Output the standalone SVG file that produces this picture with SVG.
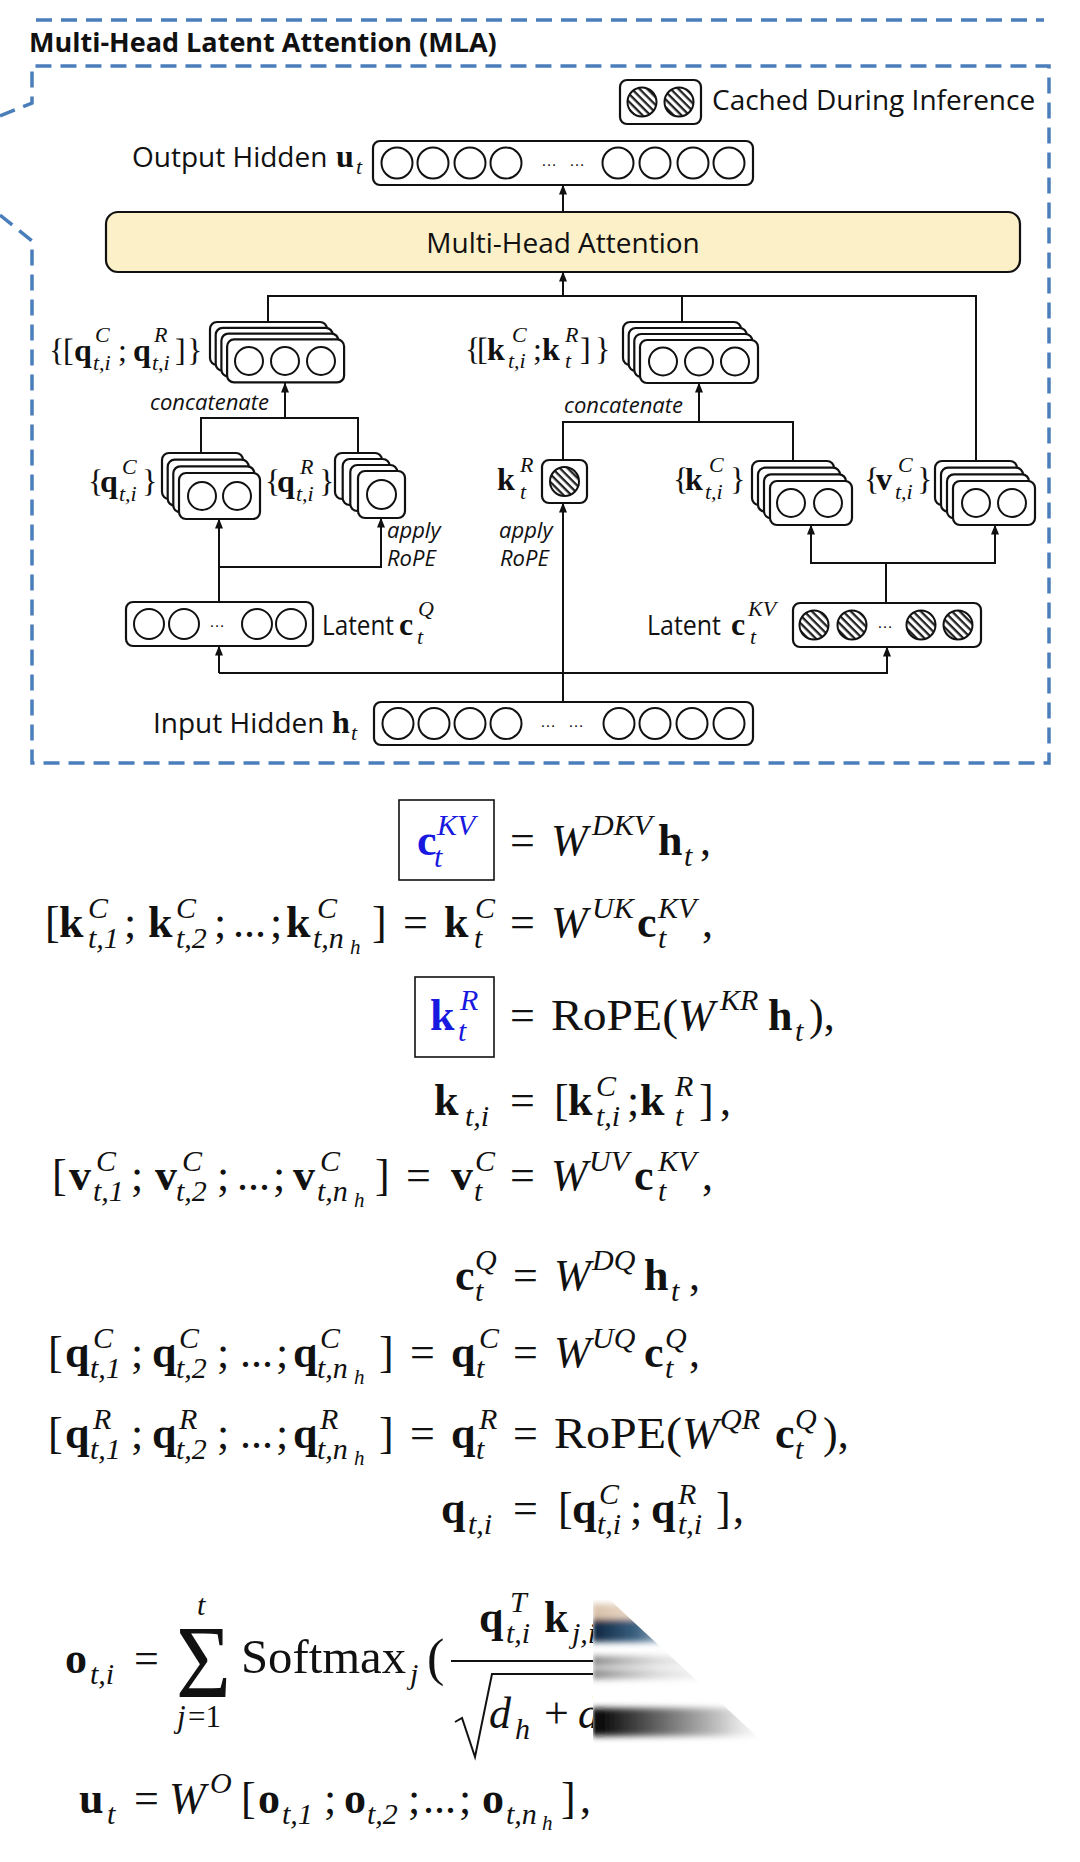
<svg xmlns="http://www.w3.org/2000/svg" width="1080" height="1862" viewBox="0 0 1080 1862">
<defs>
<style>
.sans{font-family:"Open Sans","Noto Sans",sans-serif;fill:#111}
.lbl{font-size:28px}
.it{font-style:italic;font-size:22px}
.dm{font-family:"Liberation Serif",serif;font-size:32px;fill:#111}
.ds{font-size:22px;font-style:italic}
.b{font-weight:bold}
.e{font-family:"Liberation Serif",serif;font-size:44px;fill:#111}
.s{font-size:30px;font-style:italic}
.ss{font-size:21px;font-style:italic}
.i{font-style:italic}
.blue{fill:#1818e0}
.box{fill:#fff;stroke:#111;stroke-width:2.2}
.c{fill:#fff;stroke:#111;stroke-width:2}
.h{fill:url(#hatch);stroke:#111;stroke-width:2}
.conn{fill:none;stroke:#111;stroke-width:2}
.dash{fill:none;stroke:#4a7ebb;stroke-width:3.5;stroke-dasharray:16 9}
.dots{font-family:"Liberation Sans",sans-serif;font-size:16px;fill:#111;text-anchor:middle}
</style>
<pattern id="hatch" patternUnits="userSpaceOnUse" width="5.5" height="5.5" patternTransform="rotate(45)"><rect width="5.5" height="5.5" fill="#fff"/><rect width="5.5" height="2.3" fill="#222"/></pattern>
<marker id="arr" viewBox="0 0 10 10" refX="9.5" refY="5" markerWidth="10" markerHeight="10" markerUnits="userSpaceOnUse" orient="auto"><path d="M0,1 L10,5 L0,9 z" fill="#111"/></marker>
<clipPath id="wedge"><polygon points="593,1600 610,1600 778,1756 593,1756"/></clipPath>
<filter id="blur" x="-10%" y="-10%" width="120%" height="120%"><feGaussianBlur stdDeviation="2 3"/></filter>
<linearGradient id="gO"><stop offset="0" stop-color="#b08050" stop-opacity="0.5"/><stop offset="0.5" stop-color="#e8c8a8" stop-opacity="0.3"/><stop offset="1" stop-color="#fff" stop-opacity="0"/></linearGradient>
<linearGradient id="gB"><stop offset="0" stop-color="#0d2540"/><stop offset="0.3" stop-color="#3a6080"/><stop offset="0.6" stop-color="#c0d0de"/><stop offset="1" stop-color="#fff" stop-opacity="0"/></linearGradient>
<linearGradient id="gG"><stop offset="0" stop-color="#555" stop-opacity="0.7"/><stop offset="0.4" stop-color="#bbb" stop-opacity="0.5"/><stop offset="1" stop-color="#fff" stop-opacity="0"/></linearGradient>
<linearGradient id="gD"><stop offset="0" stop-color="#000"/><stop offset="0.3" stop-color="#555"/><stop offset="0.7" stop-color="#c8c8c8"/><stop offset="1" stop-color="#fff" stop-opacity="0"/></linearGradient>
</defs>
<rect width="1080" height="1862" fill="#fff"/>

<g id="frame">
<line class="dash" x1="36" y1="20" x2="1044" y2="20"/>
<polyline class="dash" points="0,116 32,103 32,66 1049,66 1049,763 32,763 32,241 0,215"/>
<text class="sans b" x="29" y="52" style="font-size:27px">Multi-Head Latent Attention (MLA)</text>
</g>

<g id="legend">
<rect class="box" x="620" y="80" width="81" height="44" rx="7"/>
<circle class="h" cx="642" cy="102" r="14.5"/>
<circle class="h" cx="679" cy="102" r="14.5"/>
<text class="sans lbl" x="712" y="110">Cached During Inference</text>
</g>

<g id="output-hidden">
<rect class="box" x="373" y="141" width="380" height="44" rx="7"/>
<circle class="c" cx="397" cy="163" r="15.5"/><circle class="c" cx="433" cy="163" r="15.5"/><circle class="c" cx="470" cy="163" r="15.5"/><circle class="c" cx="506" cy="163" r="15.5"/>
<circle class="c" cx="618" cy="163" r="15.5"/><circle class="c" cx="655" cy="163" r="15.5"/><circle class="c" cx="693" cy="163" r="15.5"/><circle class="c" cx="729" cy="163" r="15.5"/>
<text class="dots" x="549" y="166">…</text><text class="dots" x="577" y="166">…</text>
<text class="sans lbl" x="132" y="167">Output Hidden <tspan class="dm b" x="336" y="167">u</tspan><tspan class="dm ds" x="356" y="174">t</tspan></text>
</g>

<g id="mha">
<rect x="106" y="212" width="914" height="60" rx="12" fill="#fcf0c8" stroke="#111" stroke-width="2.2"/>
<text class="sans lbl" x="563" y="253" text-anchor="middle">Multi-Head Attention</text>
</g>

<g id="q-concat">
<rect class="box" x="210" y="322" width="117" height="43" rx="7"/>
<rect class="box" x="215.7" y="327.8" width="117" height="43" rx="7"/>
<rect class="box" x="221.4" y="333.6" width="117" height="43" rx="7"/>
<rect class="box" x="227.1" y="339.4" width="117" height="43" rx="7"/>
<circle class="c" cx="249" cy="361" r="14"/><circle class="c" cx="285" cy="361" r="14"/><circle class="c" cx="321" cy="361" r="14"/>
<text class="dm"><tspan x="49" y="361">{</tspan><tspan x="63" y="361">[</tspan><tspan class="b" x="74" y="361">q</tspan><tspan class="ds" x="95" y="342">C</tspan><tspan class="ds" x="93" y="370">t,i</tspan><tspan x="118" y="361">;</tspan><tspan class="b" x="133" y="361">q</tspan><tspan class="ds" x="154" y="342">R</tspan><tspan class="ds" x="152" y="370">t,i</tspan><tspan x="175" y="361">]</tspan><tspan x="187" y="361">}</tspan></text>
</g>

<g id="k-concat">
<rect class="box" x="623" y="322" width="118" height="43" rx="7"/>
<rect class="box" x="628.7" y="328" width="118" height="43" rx="7"/>
<rect class="box" x="634.3" y="334" width="118" height="43" rx="7"/>
<rect class="box" x="640" y="340" width="118" height="43" rx="7"/>
<circle class="c" cx="663" cy="361.5" r="14"/><circle class="c" cx="699" cy="361.5" r="14"/><circle class="c" cx="735" cy="361.5" r="14"/>
<text class="dm"><tspan x="465" y="360">{</tspan><tspan x="477" y="360">[</tspan><tspan class="b" x="487" y="360">k</tspan><tspan class="ds" x="512" y="342">C</tspan><tspan class="ds" x="508" y="368">t,i</tspan><tspan x="533" y="360">;</tspan><tspan class="b" x="542" y="360">k</tspan><tspan class="ds" x="565" y="342">R</tspan><tspan class="ds" x="565" y="368">t</tspan><tspan x="580" y="360">]</tspan><tspan x="595" y="360">}</tspan></text>
</g>

<g id="qc">
<rect class="box" x="162" y="453" width="81" height="46" rx="7"/>
<rect class="box" x="167.7" y="459.7" width="81" height="46" rx="7"/>
<rect class="box" x="173.3" y="466.3" width="81" height="46" rx="7"/>
<rect class="box" x="179" y="473" width="81" height="46" rx="7"/>
<circle class="c" cx="202" cy="496" r="14"/><circle class="c" cx="237" cy="496" r="14"/>
<text class="dm"><tspan x="88" y="492">{</tspan><tspan class="b" x="100" y="492">q</tspan><tspan class="ds" x="122" y="474">C</tspan><tspan class="ds" x="119" y="501">t,i</tspan><tspan x="142" y="492">}</tspan></text>
</g>

<g id="qr">
<rect class="box" x="335" y="453" width="47" height="46" rx="7"/>
<rect class="box" x="342.7" y="459" width="47" height="46" rx="7"/>
<rect class="box" x="350.3" y="465" width="47" height="46" rx="7"/>
<rect class="box" x="358" y="471" width="47" height="47" rx="7"/>
<circle class="c" cx="381.5" cy="494.5" r="14.5"/>
<text class="dm"><tspan x="265" y="492">{</tspan><tspan class="b" x="277" y="492">q</tspan><tspan class="ds" x="300" y="474">R</tspan><tspan class="ds" x="296" y="501">t,i</tspan><tspan x="319" y="492">}</tspan></text>
<text class="sans it" x="387" y="538">apply</text>
<text class="sans it" x="387" y="566">RoPE</text>
</g>

<g id="kr">
<rect class="box" x="542" y="460" width="45" height="43" rx="7"/>
<circle class="h" cx="564.5" cy="481.5" r="14.5"/>
<text class="dm"><tspan class="b" x="497" y="490">k</tspan><tspan class="ds" x="520" y="472">R</tspan><tspan class="ds" x="520" y="499">t</tspan></text>
<text class="sans it" x="499" y="538">apply</text>
<text class="sans it" x="500" y="566">RoPE</text>
</g>

<g id="kc">
<rect class="box" x="752" y="461" width="82" height="44" rx="7"/>
<rect class="box" x="758" y="467.7" width="82" height="44" rx="7"/>
<rect class="box" x="764" y="474.3" width="82" height="44" rx="7"/>
<rect class="box" x="770" y="481" width="82" height="44" rx="7"/>
<circle class="c" cx="791" cy="503" r="14"/><circle class="c" cx="828" cy="503" r="14"/>
<text class="dm"><tspan x="673" y="490">{</tspan><tspan class="b" x="685" y="490">k</tspan><tspan class="ds" x="709" y="472">C</tspan><tspan class="ds" x="705" y="499">t,i</tspan><tspan x="730" y="490">}</tspan></text>
</g>

<g id="vc">
<rect class="box" x="935" y="461" width="82" height="44" rx="7"/>
<rect class="box" x="941" y="467.7" width="82" height="44" rx="7"/>
<rect class="box" x="947" y="474.3" width="82" height="44" rx="7"/>
<rect class="box" x="953" y="481" width="82" height="44" rx="7"/>
<circle class="c" cx="976" cy="503" r="14"/><circle class="c" cx="1012" cy="503" r="14"/>
<text class="dm"><tspan x="864" y="490">{</tspan><tspan class="b" x="876" y="490">v</tspan><tspan class="ds" x="898" y="472">C</tspan><tspan class="ds" x="895" y="499">t,i</tspan><tspan x="917" y="490">}</tspan></text>
</g>

<g id="latent-q">
<rect class="box" x="126" y="602" width="187" height="44" rx="7"/>
<circle class="c" cx="149" cy="624" r="15"/><circle class="c" cx="184" cy="624" r="15"/><circle class="c" cx="257" cy="624" r="15"/><circle class="c" cx="291" cy="624" r="15"/>
<text class="dots" x="217" y="627">…</text>
<text class="sans lbl" x="322" y="635" textLength="72" lengthAdjust="spacingAndGlyphs">Latent</text>
<text class="dm"><tspan class="b" x="399" y="635">c</tspan><tspan class="ds" x="418" y="616">Q</tspan><tspan class="ds" x="417" y="644">t</tspan></text>
</g>

<g id="latent-kv">
<rect class="box" x="793" y="603" width="188" height="44" rx="7"/>
<circle class="h" cx="814" cy="625" r="14.5"/><circle class="h" cx="852" cy="625" r="14.5"/><circle class="h" cx="921" cy="625" r="14.5"/><circle class="h" cx="958" cy="625" r="14.5"/>
<text class="dots" x="885" y="628">…</text>
<text class="sans lbl" x="647" y="635" textLength="74" lengthAdjust="spacingAndGlyphs">Latent</text>
<text class="dm"><tspan class="b" x="731" y="635">c</tspan><tspan class="ds" x="748" y="616">KV</tspan><tspan class="ds" x="750" y="644">t</tspan></text>
</g>

<g id="input-hidden">
<rect class="box" x="374" y="702" width="379" height="43" rx="7"/>
<circle class="c" cx="398" cy="723.5" r="15.5"/><circle class="c" cx="434" cy="723.5" r="15.5"/><circle class="c" cx="470" cy="723.5" r="15.5"/><circle class="c" cx="506" cy="723.5" r="15.5"/>
<circle class="c" cx="619" cy="723.5" r="15.5"/><circle class="c" cx="655" cy="723.5" r="15.5"/><circle class="c" cx="692" cy="723.5" r="15.5"/><circle class="c" cx="729" cy="723.5" r="15.5"/>
<text class="dots" x="548" y="727">…</text><text class="dots" x="576" y="727">…</text>
<text class="sans lbl" x="153" y="733">Input Hidden <tspan class="dm b" x="332" y="733">h</tspan><tspan class="dm ds" x="351" y="740">t</tspan></text>
</g>

<g id="connectors">
<line class="conn" x1="563" y1="212" x2="563" y2="185" marker-end="url(#arr)"/>
<line class="conn" x1="563" y1="296" x2="563" y2="272" marker-end="url(#arr)"/>
<polyline class="conn" points="268,322 268,296 976,296 976,461"/>
<line class="conn" x1="682" y1="296" x2="682" y2="322"/>
<line class="conn" x1="285" y1="418" x2="285" y2="383" marker-end="url(#arr)"/>
<polyline class="conn" points="201,453 201,418 358,418 358,453"/>
<line class="conn" x1="219" y1="602" x2="219" y2="519" marker-end="url(#arr)"/>
<polyline class="conn" points="219,567 381,567 381,518" marker-end="url(#arr)"/>
<line class="conn" x1="219" y1="673" x2="219" y2="646" marker-end="url(#arr)"/>
<polyline class="conn" points="219,673 887,673 887,647" marker-end="url(#arr)"/>
<line class="conn" x1="563" y1="702" x2="563" y2="503" marker-end="url(#arr)"/>
<polyline class="conn" points="563,460 563,422 793,422 793,461"/>
<line class="conn" x1="699" y1="422" x2="699" y2="383" marker-end="url(#arr)"/>
<text class="sans it" x="150" y="410">concatenate</text>
<text class="sans it" x="564" y="413">concatenate</text>
<line class="conn" x1="886" y1="603" x2="886" y2="563"/>
<polyline class="conn" points="811,525 811,563 995,563 995,525"/>
<line class="conn" x1="811" y1="540" x2="811" y2="525" marker-end="url(#arr)"/>
<line class="conn" x1="995" y1="540" x2="995" y2="525" marker-end="url(#arr)"/>
</g>

<g id="equations">
<rect x="399" y="800" width="95" height="80" fill="none" stroke="#111" stroke-width="1.6"/>
<text class="e"><tspan class="b blue" x="417" y="855">c</tspan><tspan class="s blue" x="437" y="835">KV</tspan><tspan class="s blue" x="434" y="867">t</tspan><tspan x="510" y="855">=</tspan><tspan class="i" x="551" y="855">W</tspan><tspan class="s" x="592" y="835">DKV</tspan><tspan class="b" x="658" y="855">h</tspan><tspan class="s" x="684" y="866">t</tspan><tspan x="700" y="855">,</tspan></text>

<text class="e"><tspan x="45" y="937">[</tspan><tspan class="b" x="59" y="937">k</tspan><tspan class="s" x="88" y="918">C</tspan><tspan class="s" x="88" y="948">t,1</tspan><tspan x="124" y="937">;</tspan><tspan class="b" x="148" y="937">k</tspan><tspan class="s" x="176" y="918">C</tspan><tspan class="s" x="176" y="948">t,2</tspan><tspan x="214" y="937">;</tspan><tspan x="233" y="937">...</tspan><tspan x="270" y="937">;</tspan><tspan class="b" x="286" y="937">k</tspan><tspan class="s" x="317" y="918">C</tspan><tspan class="s" x="313" y="948">t,n</tspan><tspan class="ss" x="350" y="954">h</tspan><tspan x="372" y="937">]</tspan><tspan x="403" y="937">=</tspan><tspan class="b" x="444" y="937">k</tspan><tspan class="s" x="475" y="918">C</tspan><tspan class="s" x="474" y="948">t</tspan><tspan x="510" y="937">=</tspan><tspan class="i" x="551" y="937">W</tspan><tspan class="s" x="592" y="918">UK</tspan><tspan class="b" x="637" y="937">c</tspan><tspan class="s" x="658" y="918">KV</tspan><tspan class="s" x="658" y="948">t</tspan><tspan x="702" y="937">,</tspan></text>

<rect x="415" y="977" width="79" height="80" fill="none" stroke="#111" stroke-width="1.6"/>
<text class="e"><tspan class="b blue" x="430" y="1030">k</tspan><tspan class="s blue" x="460" y="1010">R</tspan><tspan class="s blue" x="458" y="1041">t</tspan><tspan x="510" y="1030">=</tspan><tspan x="551" y="1030" textLength="127" lengthAdjust="spacingAndGlyphs">RoPE(</tspan><tspan class="i" x="678" y="1030">W</tspan><tspan class="s" x="720" y="1010">KR</tspan><tspan class="b" x="768" y="1030">h</tspan><tspan class="s" x="795" y="1041">t</tspan><tspan x="809" y="1030">),</tspan></text>

<text class="e"><tspan class="b" x="434" y="1115">k</tspan><tspan class="s" x="465" y="1126">t,i</tspan><tspan x="510" y="1115">=</tspan><tspan x="554" y="1115">[</tspan><tspan class="b" x="568" y="1115">k</tspan><tspan class="s" x="596" y="1096">C</tspan><tspan class="s" x="596" y="1126">t,i</tspan><tspan x="627" y="1115">;</tspan><tspan class="b" x="640" y="1115">k</tspan><tspan class="s" x="675" y="1096">R</tspan><tspan class="s" x="675" y="1126">t</tspan><tspan x="699" y="1115">]</tspan><tspan x="720" y="1115">,</tspan></text>

<text class="e"><tspan x="52" y="1190">[</tspan><tspan class="b" x="69" y="1190">v</tspan><tspan class="s" x="96" y="1171">C</tspan><tspan class="s" x="93" y="1201">t,1</tspan><tspan x="131" y="1190">;</tspan><tspan class="b" x="155" y="1190">v</tspan><tspan class="s" x="182" y="1171">C</tspan><tspan class="s" x="176" y="1201">t,2</tspan><tspan x="217" y="1190">;</tspan><tspan x="237" y="1190">...</tspan><tspan x="273" y="1190">;</tspan><tspan class="b" x="293" y="1190">v</tspan><tspan class="s" x="320" y="1171">C</tspan><tspan class="s" x="317" y="1201">t,n</tspan><tspan class="ss" x="354" y="1207">h</tspan><tspan x="375" y="1190">]</tspan><tspan x="406" y="1190">=</tspan><tspan class="b" x="451" y="1190">v</tspan><tspan class="s" x="475" y="1171">C</tspan><tspan class="s" x="474" y="1201">t</tspan><tspan x="510" y="1190">=</tspan><tspan class="i" x="551" y="1190">W</tspan><tspan class="s" x="589" y="1171">UV</tspan><tspan class="b" x="634" y="1190">c</tspan><tspan class="s" x="658" y="1171">KV</tspan><tspan class="s" x="658" y="1201">t</tspan><tspan x="702" y="1190">,</tspan></text>

<text class="e"><tspan class="b" x="455" y="1290">c</tspan><tspan class="s" x="475" y="1270">Q</tspan><tspan class="s" x="475" y="1301">t</tspan><tspan x="513" y="1290">=</tspan><tspan class="i" x="554" y="1290">W</tspan><tspan class="s" x="592" y="1270">DQ</tspan><tspan class="b" x="644" y="1290">h</tspan><tspan class="s" x="671" y="1301">t</tspan><tspan x="689" y="1290">,</tspan></text>

<text class="e"><tspan x="48" y="1367">[</tspan><tspan class="b" x="65" y="1367">q</tspan><tspan class="s" x="93" y="1348">C</tspan><tspan class="s" x="90" y="1378">t,1</tspan><tspan x="131" y="1367">;</tspan><tspan class="b" x="152" y="1367">q</tspan><tspan class="s" x="179" y="1348">C</tspan><tspan class="s" x="176" y="1378">t,2</tspan><tspan x="217" y="1367">;</tspan><tspan x="240" y="1367">...</tspan><tspan x="276" y="1367">;</tspan><tspan class="b" x="293" y="1367">q</tspan><tspan class="s" x="320" y="1348">C</tspan><tspan class="s" x="317" y="1378">t,n</tspan><tspan class="ss" x="354" y="1384">h</tspan><tspan x="379" y="1367">]</tspan><tspan x="410" y="1367">=</tspan><tspan class="b" x="451" y="1367">q</tspan><tspan class="s" x="479" y="1348">C</tspan><tspan class="s" x="476" y="1378">t</tspan><tspan x="513" y="1367">=</tspan><tspan class="i" x="554" y="1367">W</tspan><tspan class="s" x="592" y="1348">UQ</tspan><tspan class="b" x="644" y="1367">c</tspan><tspan class="s" x="665" y="1348">Q</tspan><tspan class="s" x="665" y="1378">t</tspan><tspan x="689" y="1367">,</tspan></text>

<text class="e"><tspan x="48" y="1448">[</tspan><tspan class="b" x="65" y="1448">q</tspan><tspan class="s" x="93" y="1429">R</tspan><tspan class="s" x="90" y="1459">t,1</tspan><tspan x="131" y="1448">;</tspan><tspan class="b" x="152" y="1448">q</tspan><tspan class="s" x="179" y="1429">R</tspan><tspan class="s" x="176" y="1459">t,2</tspan><tspan x="217" y="1448">;</tspan><tspan x="240" y="1448">...</tspan><tspan x="276" y="1448">;</tspan><tspan class="b" x="293" y="1448">q</tspan><tspan class="s" x="320" y="1429">R</tspan><tspan class="s" x="317" y="1459">t,n</tspan><tspan class="ss" x="354" y="1465">h</tspan><tspan x="379" y="1448">]</tspan><tspan x="410" y="1448">=</tspan><tspan class="b" x="451" y="1448">q</tspan><tspan class="s" x="479" y="1429">R</tspan><tspan class="s" x="476" y="1459">t</tspan><tspan x="513" y="1448">=</tspan><tspan x="554" y="1448" textLength="128" lengthAdjust="spacingAndGlyphs">RoPE(</tspan><tspan class="i" x="682" y="1448">W</tspan><tspan class="s" x="720" y="1429">QR</tspan><tspan class="b" x="775" y="1448">c</tspan><tspan class="s" x="795" y="1429">Q</tspan><tspan class="s" x="795" y="1459">t</tspan><tspan x="823" y="1448">),</tspan></text>

<text class="e"><tspan class="b" x="441" y="1523">q</tspan><tspan class="s" x="468" y="1534">t,i</tspan><tspan x="513" y="1523">=</tspan><tspan x="558" y="1523">[</tspan><tspan class="b" x="572" y="1523">q</tspan><tspan class="s" x="599" y="1504">C</tspan><tspan class="s" x="597" y="1534">t,i</tspan><tspan x="630" y="1523">;</tspan><tspan class="b" x="651" y="1523">q</tspan><tspan class="s" x="678" y="1504">R</tspan><tspan class="s" x="678" y="1534">t,i</tspan><tspan x="716" y="1523">]</tspan><tspan x="733" y="1523">,</tspan></text>

<text class="e"><tspan class="b" x="65" y="1673">o</tspan><tspan class="s" x="90" y="1684">t,i</tspan><tspan x="134" y="1673">=</tspan></text>
<text class="e" x="176" y="1697" style="font-size:104px" textLength="55" lengthAdjust="spacingAndGlyphs">Σ</text>
<text class="e s" x="197" y="1615">t</text>
<text class="e" style="font-size:31px"><tspan class="i" x="177" y="1727">j</tspan><tspan x="188" y="1727">=1</tspan></text>
<text class="e"><tspan x="241" y="1673" textLength="165" lengthAdjust="spacingAndGlyphs" style="font-size:48px">Softmax</tspan><tspan class="s" x="410" y="1684">j</tspan><tspan x="427" y="1675" style="font-size:52px">(</tspan></text>
<text class="e"><tspan class="b" x="479" y="1632">q</tspan><tspan class="s" x="510" y="1612">T</tspan><tspan class="s" x="506" y="1643">t,i</tspan><tspan class="b" x="544" y="1632">k</tspan><tspan class="s" x="572" y="1643">j,i</tspan></text>
<line x1="451" y1="1661" x2="600" y2="1661" stroke="#111" stroke-width="2"/>
<path d="M455,1722 L462,1718 L475,1757 L492,1674 L600,1674" fill="none" stroke="#111" stroke-width="2"/>
<text class="e"><tspan class="i" x="489" y="1728">d</tspan><tspan class="s" x="515" y="1739">h</tspan><tspan x="544" y="1728">+</tspan><tspan class="i" x="578" y="1728">d</tspan></text>

<text class="e"><tspan class="b" x="79" y="1813">u</tspan><tspan class="s" x="107" y="1824">t</tspan><tspan x="134" y="1813">=</tspan><tspan class="i" x="169" y="1813">W</tspan><tspan class="s" x="210" y="1793">O</tspan><tspan x="241" y="1813">[</tspan><tspan class="b" x="258" y="1813">o</tspan><tspan class="s" x="282" y="1824">t,1</tspan><tspan x="324" y="1813">;</tspan><tspan class="b" x="344" y="1813">o</tspan><tspan class="s" x="367" y="1824">t,2</tspan><tspan x="408" y="1813">;</tspan><tspan x="423" y="1813">...</tspan><tspan x="459" y="1813">;</tspan><tspan class="b" x="482" y="1813">o</tspan><tspan class="s" x="506" y="1824">t,n</tspan><tspan class="ss" x="542" y="1830">h</tspan><tspan x="561" y="1813">]</tspan><tspan x="580" y="1813">,</tspan></text>
</g>

<g id="smear">
<polygon points="593,1600 610,1600 778,1756 593,1756" fill="#fff"/>
<g clip-path="url(#wedge)">
<g filter="url(#blur)">
<rect x="593" y="1604" width="185" height="16" fill="url(#gO)"/>
<rect x="593" y="1620" width="140" height="22" fill="url(#gB)"/>
<rect x="593" y="1656" width="170" height="10" fill="url(#gG)"/>
<rect x="593" y="1669" width="170" height="10" fill="url(#gG)"/>
<rect x="593" y="1708" width="185" height="28" fill="url(#gD)"/>
</g>
</g>
</g>
</svg>
